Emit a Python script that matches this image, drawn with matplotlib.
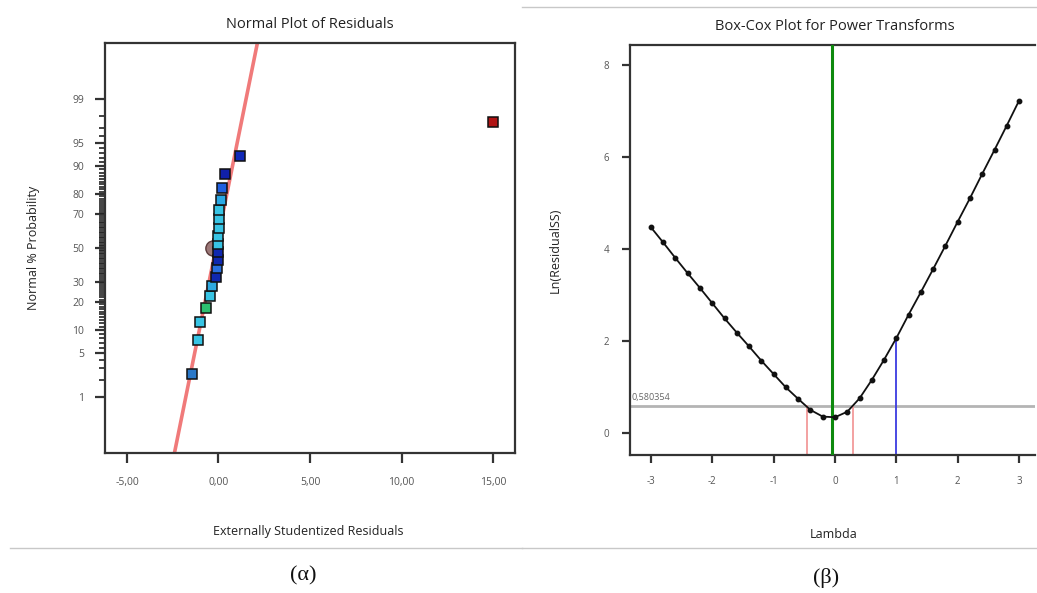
import matplotlib
matplotlib.use('Agg')
import matplotlib.pyplot as plt
import numpy as np
from statistics import NormalDist
from matplotlib.lines import Line2D

plt.rcParams['font.family'] = ['Open Sans', 'DejaVu Sans']
plt.rcParams['axes.unicode_minus'] = False

# ---- (a) normal plot of residuals ----
resid = [-1.43, -1.11, -1.02, -0.69, -0.47, -0.34, -0.13, -0.07, -0.05, -0.04,
         0.00, 0.00, 0.02, 0.02, 0.02, 0.16, 0.20, 0.38, 1.16, 14.99]
prob = [2.5, 7.5, 12.5, 17.5, 22.5, 27.5, 32.5, 37.5, 42.5, 47.5,
        52.5, 57.5, 62.5, 67.5, 72.5, 77.5, 82.5, 87.5, 92.5, 97.5]
pt_colors = ['#2a78c8', '#38c4e4', '#38c4e4', '#2cc070', '#38c4e4', '#2ea8e0',
             '#1028b0', '#2a70e0', '#1028b0', '#1028b0',
             '#38c4e4', '#38c4e4', '#38c4e4', '#38c4e4', '#38c4e4', '#2aa8e4',
             '#2060e0', '#1020a8', '#1028b8', '#b01414']
fit_center = -0.14
fit_scale = 0.708
prob_ticks = [1, 5, 10, 20, 30, 50, 70, 80, 90, 95, 99]
prob_minor = [2, 3, 4] + list(range(6, 99))
x_ticks_a = [-5, 0, 5, 10, 15]
x_labels_a = ['-5,00', '0,00', '5,00', '10,00', '15,00']

# ---- (b) Box-Cox ----
lam = [-3.0, -2.8, -2.6, -2.4, -2.2, -2.0, -1.8, -1.6, -1.4, -1.2, -1.0,
       -0.8, -0.6, -0.4, -0.2, 0.0, 0.2, 0.4, 0.6, 0.8, 1.0,
       1.2, 1.4, 1.6, 1.8, 2.0, 2.2, 2.4, 2.6, 2.8, 3.0]
ln_ss = [4.47, 4.14, 3.80, 3.47, 3.15, 2.82, 2.49, 2.18, 1.88, 1.57, 1.28,
         0.99, 0.74, 0.50, 0.355, 0.34, 0.46, 0.75, 1.15, 1.59, 2.06,
         2.57, 3.06, 3.56, 4.07, 4.59, 5.10, 5.63, 6.15, 6.68, 7.22]
threshold = 0.580354
best_lam = -0.05
ci_low, ci_high = -0.45, 0.29
current_lam = 1.0

inv = NormalDist().inv_cdf
frame_col = '#333333'
tick_col = '#555555'

fig = plt.figure(figsize=(10.37, 5.93), dpi=100)

# left panel
ax1 = fig.add_axes([105/1037, 1-453/593, 410/1037, 410/593])
zlim = (-3.2, 3.2)
zz = np.array(zlim)
ax1.plot(fit_center + fit_scale*zz, zz, color='#f07a7a', lw=2.6, zorder=2,
         solid_capstyle='butt')
ax1.plot([fit_center - 0.16], [inv(0.5)], 'o', ms=11, mfc='#9c7878', mec='#5a3a3a',
         mew=1.0, zorder=3)
zp = [inv(p/100) for p in prob]
for xv, yv, c in zip(resid, zp, pt_colors):
    ax1.plot(xv, yv, 's', ms=6.5, mfc=c, mec='#101010', mew=1.1, zorder=4)
ax1.set_xlim(-6.2, 16.2)
ax1.set_ylim(*zlim)
ax1.set_yticks([inv(p/100) for p in prob_ticks])
ax1.set_yticklabels([str(p) for p in prob_ticks])
ax1.set_yticks([inv(p/100) for p in prob_minor], minor=True)
ax1.set_xticks(x_ticks_a)
ax1.set_xticklabels(x_labels_a)
ax1.tick_params(axis='both', which='major', direction='out', length=7, width=1.6,
                color=frame_col, labelcolor=tick_col, labelsize=7.5, pad=10)
ax1.tick_params(axis='y', which='minor', direction='out', length=4, width=1.2,
                color='#222222')
ax1.tick_params(axis='x', which='minor', length=0)
ax1.tick_params(axis='y', which='major', pad=8)
for s in ax1.spines.values():
    s.set_color(frame_col)
    s.set_linewidth(1.6)

# right panel
ax2 = fig.add_axes([630/1037, 1-455/593, 405/1037, 410/593])
ax2.axhline(threshold, color='#b4b4b4', lw=2, zorder=1)
ax2.axvline(best_lam, color='#0e8a0e', lw=2.2, zorder=3)
ax2.plot([ci_low, ci_low], [-1, threshold], color='#f29a9a', lw=1.3, zorder=2)
ax2.plot([ci_high, ci_high], [-1, threshold], color='#f29a9a', lw=1.3, zorder=2)
ax2.plot([current_lam, current_lam], [-1, np.interp(current_lam, lam, ln_ss)],
         color='#3a3ae0', lw=1.3, zorder=2)
ax2.plot(lam, ln_ss, '-o', color='#111111', lw=1.3, ms=3.2, zorder=4)
ax2.text(-3.32, threshold + 0.1, '0,580354', fontsize=6.5, color='#666666',
         ha='left', va='bottom')
ax2.set_xlim(-3.34, 3.26)
ax2.set_ylim(-0.48, 8.43)
ax2.set_xticks([-3, -2, -1, 0, 1, 2, 3])
ax2.set_yticks([0, 2, 4, 6, 8])
ax2.tick_params(axis='both', direction='out', length=6, width=1.6,
                color=frame_col, labelcolor=tick_col, labelsize=7, pad=9)
for s in ax2.spines.values():
    s.set_color(frame_col)
    s.set_linewidth(1.6)
ax2.spines['right'].set_visible(False)

# texts
fig.text(310/1037, 1-25/593, 'Normal Plot of Residuals', ha='center', va='center',
         fontsize=10.5, color='#222222')
fig.text(33/1037, 1-248/593, 'Normal % Probability', rotation=90, ha='center',
         va='center', fontsize=9, color='#222222')
fig.text(308/1037, 1-532/593, 'Externally Studentized Residuals', ha='center',
         va='center', fontsize=9, color='#222222')
fig.text(835/1037, 1-26/593, 'Box-Cox Plot for Power Transforms', ha='center',
         va='center', fontsize=10.5, color='#222222')
fig.text(555/1037, 1-250/593, 'Ln(ResidualSS)', rotation=90, ha='center',
         va='center', fontsize=9, color='#222222')
fig.text(834/1037, 1-535/593, 'Lambda', ha='center', va='center', fontsize=9,
         color='#222222')
fig.text(303/1037, 1-576/593, '(α)', ha='center', va='center', fontsize=16,
         family=['Liberation Serif', 'DejaVu Serif'], color='#111111')
fig.text(826/1037, 1-578/593, '(β)', ha='center', va='center', fontsize=16,
         family=['Liberation Serif', 'DejaVu Serif'], color='#111111')

# separators
fig.add_artist(Line2D([10/1037, 522/1037], [1-548/593]*2, color='#c8c8c8', lw=1))
fig.add_artist(Line2D([522/1037, 1.0], [1-548/593]*2, color='#c8c8c8', lw=1))
fig.add_artist(Line2D([522/1037, 1.0], [1-7/593]*2, color='#c8c8c8', lw=1))

fig.savefig('out.png', dpi=100)
